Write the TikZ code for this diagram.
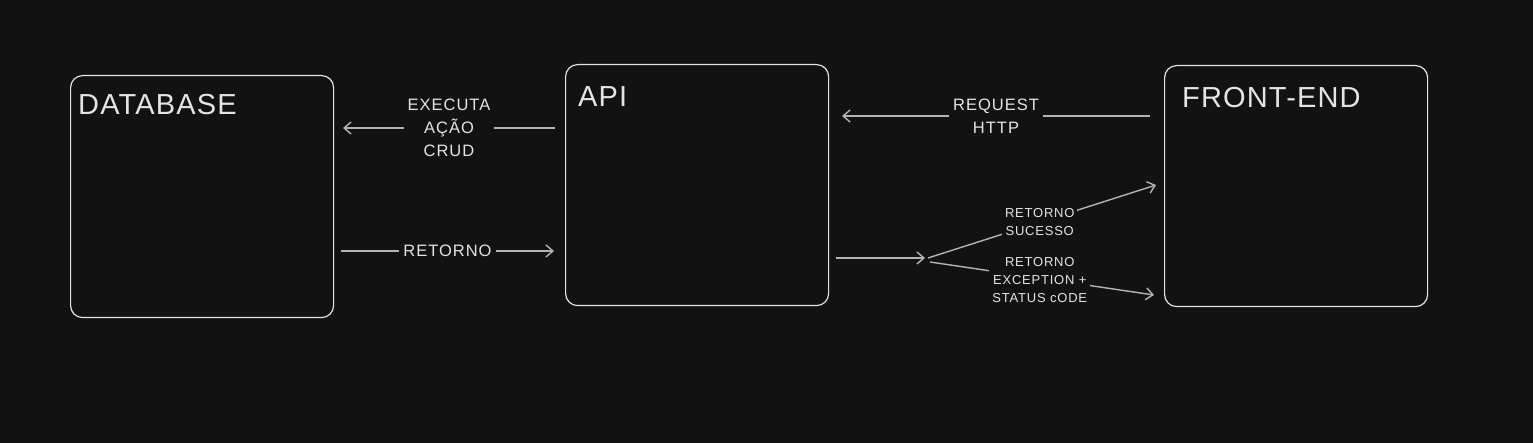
\documentclass[tikz,border=0pt]{standalone}
\usepackage{fontspec}
\setmainfont{Liberation Sans}
\newfontfamily\wide[LetterSpace=6]{Liberation Sans}
\newfontfamily\widet[LetterSpace=4]{Liberation Sans}
\usetikzlibrary{arrows.meta}
\definecolor{bg}{HTML}{121212}
\definecolor{fg}{HTML}{E4E4E4}
\definecolor{ln}{HTML}{B4B4B4}
\begin{document}
\begin{tikzpicture}[x=1pt,y=-1pt,
  box/.style={draw=fg, line width=1.2pt, rounded corners=12pt, minimum width=263pt, minimum height=241pt, inner sep=0pt, anchor=north west},
  title/.style={text=fg, font=\widet\fontsize{29}{30}\selectfont, anchor=base west, inner sep=0pt},
  lbl/.style={text=fg, fill=bg, align=center, font=\wide\fontsize{16.5}{23}\selectfont, inner xsep=4pt, inner ysep=1pt},
  slbl/.style={text=fg, fill=bg, align=center, font=\wide\fontsize{13}{18}\selectfont, inner xsep=3pt, inner ysep=1pt},
  conn/.style={draw=ln, line width=1.4pt, -{Straight Barb[length=7pt,width=12pt,line width=1.4pt]}},
  line/.style={draw=ln, line width=1.4pt}]
\fill[bg] (0,0) rectangle (1533,443);
% boxes
\node[box] (db) at (70,75) [minimum height=242pt] {};
\node[box] (api) at (565,64) {};
\node[box] (fe) at (1164,65) {};
% titles
\node[title] (dbt) at (78,115) {DATABASE};
\node[title] (apit) at (578,107) {API};
\node[title] (fet) at (1182,108) {FRONT-END};
% connector end points
\coordinate (a1) at (555,128);
\coordinate (a2) at (343,128);
\coordinate (r1) at (341,251);
\coordinate (r2) at (554,251);
\coordinate (h1) at (1150,116);
\coordinate (h2) at (842,116);
\coordinate (j1) at (836,258);
\coordinate (j2) at (925,258);
\coordinate (s1) at (928,258);
\coordinate (s2) at (1156,185);
\coordinate (e1) at (930,262);
\coordinate (e2) at (1154,295);
% connectors
\draw[conn] (a1) -- node[lbl] (lcrud) {EXECUTA\\AÇÃO\\CRUD} (a2);
\draw[conn] (r1) -- node[lbl] (lret) {RETORNO} (r2);
\draw[conn] (h1) -- node[lbl] (lhttp) {REQUEST\\HTTP} (h2);
\draw[conn] (j1) -- (j2);
\draw[conn] (s1) -- node[slbl, pos=0.49] (lsuc) {RETORNO\\SUCESSO} (s2);
\draw[conn] (e1) -- node[slbl, pos=0.49, yshift=-2pt] (lexc) {RETORNO\\EXCEPTION +\\STATUS cODE} (e2);
\end{tikzpicture}
\end{document}
